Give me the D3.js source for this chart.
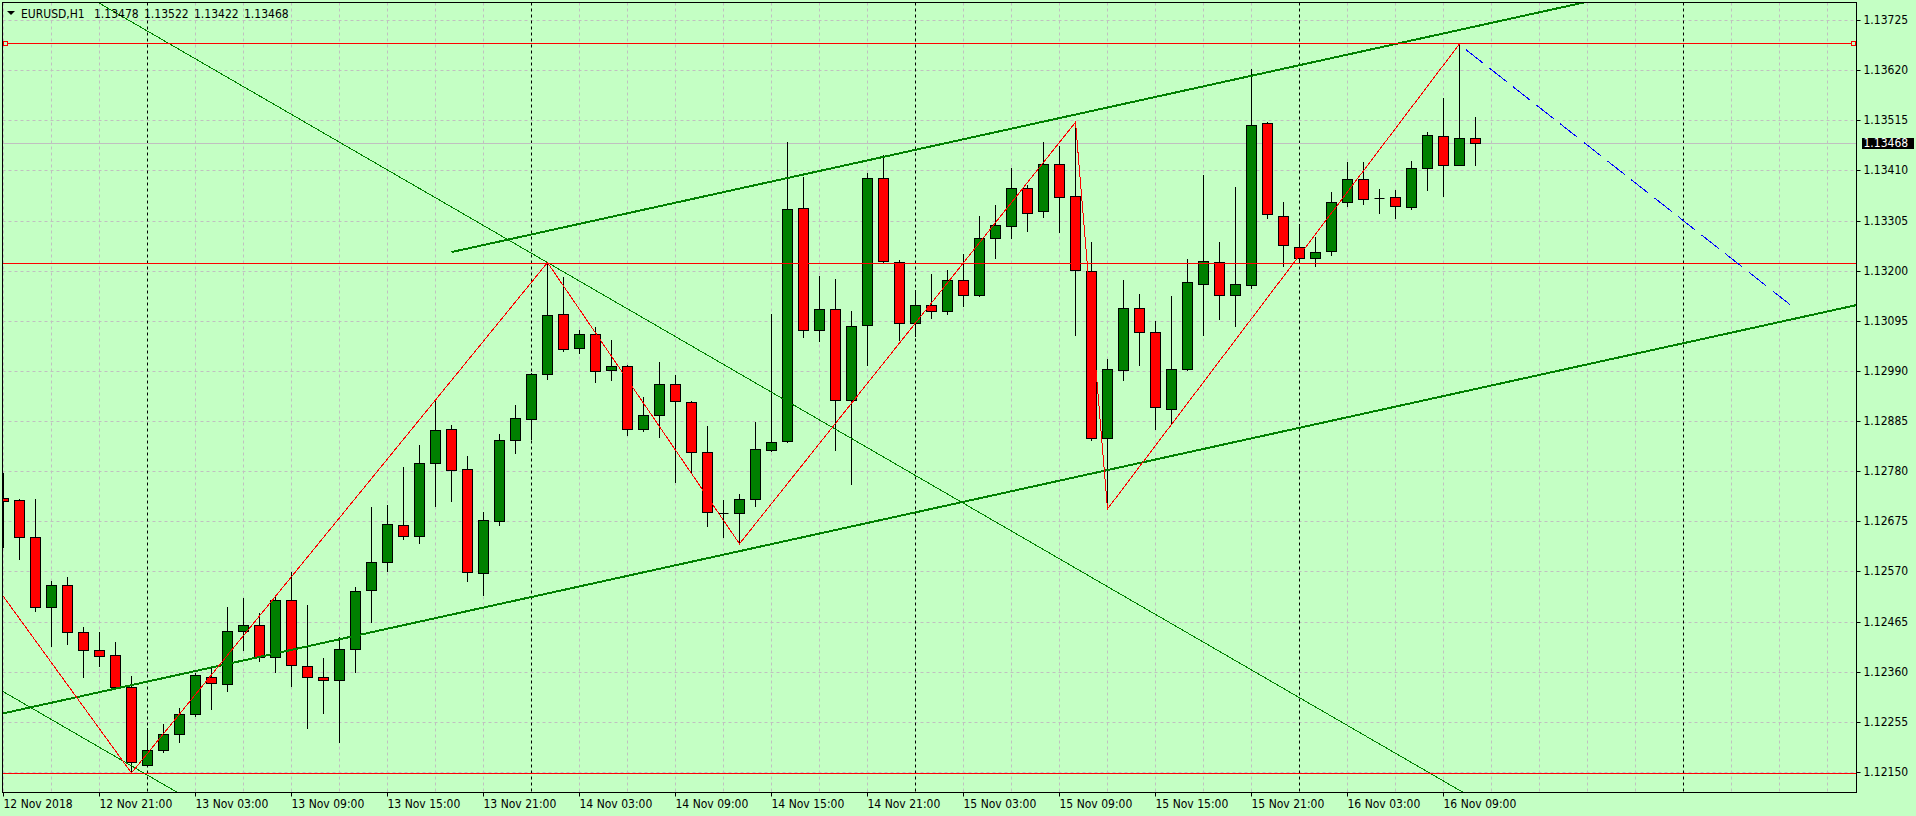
<!DOCTYPE html>
<html lang="en">
	<head>
		<meta charset="utf-8">
		<title>EURUSD,H1</title>
		<script type="text/javascript" src="https://cdnjs.cloudflare.com/ajax/libs/d3/7.8.5/d3.min.js"></script>
		<style type="text/css">
			body { margin: 0; background: #c4ffc4; }
			svg { display: block; }
			text { font-family: "DejaVu Sans Condensed", "Liberation Sans", sans-serif; font-size: 12px; }
		</style>
	</head>
	<body>
		<script type="text/javascript">

			//Width and height
			var w = 1916;
			var h = 816;

			//Chart frame, pixel edges
			var frame = {left: 2.5, top: 2.5, right: 1856.5, bottom: 792.5};

			var symbol = "EURUSD,H1";

			//Hourly bars from 12 Nov 2018 15:00
			var opens = [1.12724,1.12719,1.12642,1.12496,1.12542,1.12443,1.12406,1.12395,1.12328,1.12165,
				1.12196,1.12230,1.12272,1.12349,1.12334,1.12445,1.12457,1.12391,1.12510,1.12372,
				1.12349,1.12343,1.12408,1.12531,1.12590,1.12668,1.12645,1.12798,1.12869,1.12785,
				1.12567,1.12676,1.12846,1.12890,1.12984,1.13110,1.13039,1.13068,1.12992,1.13001,
				1.12869,1.12898,1.12963,1.12925,1.12821,1.12693,1.12693,1.12722,1.12825,1.12843,
				1.13332,1.13075,1.13120,1.12930,1.13087,1.13395,1.13219,1.13091,1.13129,1.13116,
				1.13181,1.13148,1.13269,1.13294,1.13374,1.13324,1.13424,1.13357,1.13200,1.12850,
				1.12992,1.13122,1.13072,1.12911,1.12995,1.13173,1.13219,1.13148,1.13171,1.13510,
				1.13315,1.13250,1.13227,1.13242,1.13344,1.13391,1.13352,1.13355,1.13334,1.13416,
				1.13483,1.13422,1.13478];
			var highs = [1.12777,1.12722,1.12721,1.12551,1.12559,1.12453,1.12444,1.12423,1.12352,1.12242,
				1.12251,1.12285,1.12357,1.12373,1.12495,1.12514,1.12483,1.12519,1.12569,1.12499,
				1.12389,1.12433,1.12538,1.12705,1.12710,1.12788,1.12834,1.12932,1.12876,1.12811,
				1.12694,1.12858,1.12918,1.12985,1.13218,1.13187,1.13076,1.13083,1.13054,1.13003,
				1.12936,1.13009,1.12982,1.12927,1.12874,1.12719,1.12733,1.12883,1.13109,1.13470,
				1.13397,1.13188,1.13182,1.13115,1.13405,1.13443,1.13223,1.13160,1.13194,1.13201,
				1.13234,1.13314,1.13337,1.13416,1.13380,1.13470,1.13461,1.13512,1.13259,1.13014,
				1.13181,1.13152,1.13094,1.13146,1.13224,1.13400,1.13259,1.13376,1.13622,1.13512,
				1.13344,1.13298,1.13271,1.13365,1.13427,1.13427,1.13372,1.13368,1.13429,1.13491,
				1.13562,1.13676,1.13522];
			var lows = [1.12622,1.12596,1.12487,1.12413,1.12418,1.12350,1.12373,1.12327,1.12149,1.12162,
				1.12191,1.12212,1.12268,1.12282,1.12319,1.12405,1.12382,1.12359,1.12331,1.12243,
				1.12273,1.12212,1.12359,1.12465,1.12572,1.12638,1.12629,1.12707,1.12717,1.12551,
				1.12520,1.12667,1.12818,1.12848,1.12974,1.13031,1.13028,1.12966,1.12971,1.12855,
				1.12864,1.12852,1.12757,1.12777,1.12665,1.12642,1.12629,1.12707,1.12823,1.12841,
				1.13061,1.13052,1.12824,1.12754,1.13002,1.13219,1.13054,1.13063,1.13101,1.13109,
				1.13126,1.13147,1.13226,1.13269,1.13284,1.13313,1.13280,1.13066,1.12846,1.12702,
				1.12971,1.13002,1.12869,1.12878,1.12992,1.13066,1.13099,1.13084,1.13164,1.13311,
				1.13210,1.13217,1.13210,1.13233,1.13335,1.13340,1.13321,1.13311,1.13330,1.13369,
				1.13357,1.13421,1.13422];
			var closes = [1.12717,1.12642,1.12496,1.12542,1.12443,1.12406,1.12393,1.12328,1.12171,1.12197,
				1.12230,1.12272,1.12353,1.12337,1.12445,1.12457,1.12391,1.12510,1.12374,1.12349,
				1.12343,1.12408,1.12529,1.12590,1.12670,1.12645,1.12798,1.12867,1.12783,1.12569,
				1.12678,1.12846,1.12892,1.12984,1.13108,1.13036,1.13068,1.12990,1.13001,1.12869,
				1.12898,1.12963,1.12927,1.12821,1.12695,1.12693,1.12722,1.12827,1.12842,1.13330,
				1.13075,1.13120,1.12930,1.13085,1.13395,1.13221,1.13091,1.13129,1.13116,1.13181,
				1.13148,1.13269,1.13296,1.13374,1.13321,1.13424,1.13355,1.13202,1.12850,1.12995,
				1.13122,1.13072,1.12915,1.12995,1.13177,1.13221,1.13148,1.13173,1.13506,1.13319,
				1.13254,1.13227,1.13240,1.13344,1.13391,1.13351,1.13352,1.13336,1.13416,1.13485,
				1.13422,1.13478,1.13468];

			//Time axis
			var timeTickBars = [0, 6, 12, 18, 24, 30, 36, 42, 48, 54, 60, 66, 72, 78, 84, 90];
			var timeTickLabels = ["12 Nov 2018", "12 Nov 21:00", "13 Nov 03:00", "13 Nov 09:00",
				"13 Nov 15:00", "13 Nov 21:00", "14 Nov 03:00", "14 Nov 09:00", "14 Nov 15:00",
				"14 Nov 21:00", "15 Nov 03:00", "15 Nov 09:00", "15 Nov 15:00", "15 Nov 21:00",
				"16 Nov 03:00", "16 Nov 09:00"];
			var daySeparatorBars = [9, 33, 57, 81, 105];

			//Price axis
			var priceTicks = [1.13725, 1.13620, 1.13515, 1.13410, 1.13305, 1.13200, 1.13095, 1.12990,
				1.12885, 1.12780, 1.12675, 1.12570, 1.12465, 1.12360, 1.12255, 1.12150];

			//Drawn objects, anchors as [bar, price]
			var zigzag = [[-4, 1.12703], [8, 1.12149], [34, 1.13218], [46, 1.12629], [67, 1.13512], [69, 1.12702], [91, 1.13676]];
			var upperChannel = [[28, 1.13240], [98, 1.13757]];
			var lowerChannel = [[0, 1.12274], [115, 1.13123]];
			var fanLineA = [[34, 1.13218], [80, 1.12326]];
			var fanLineB = [[0, 1.12319], [46, 1.11427]];
			var projection = [[91.4, 1.13664], [112, 1.13121]];
			var levels = [1.13676, 1.13217, 1.12148];

			//Bar index -> pixel centre, 16px per bar
			var xScale = d3.scaleLinear()
						   .domain([0, 100])
						   .range([3.5, 1603.5]);

			var yScale = d3.scaleLinear()
						   .domain([1.12150, 1.13725])
						   .range([772.5, 20.5]);

			//Pixel row of a price
			var row = p=>Math.floor(yScale(p));

			//Straight line through two anchors, stretched over [k0, k1]
			var stretch = (pts, k0, k1)=>{
				var s = (pts[1][1] - pts[0][1]) / (pts[1][0] - pts[0][0]);
				return [[k0, pts[0][1] + s * (k0 - pts[0][0])], [k1, pts[0][1] + s * (k1 - pts[0][0])]];
			};

			var line = d3.line()
						 .x(d=>xScale(d[0]))
						 .y(d=>yScale(d[1]));

			var bars = opens.map((o, i)=>({k: i, o: o, h: highs[i], l: lows[i], c: closes[i]}));
			var last = bars[bars.length - 1];

			//Create SVG element
			var svg = d3.select("body")
						.append("svg")
						.attr("width", w)
						.attr("height", h);

			svg.append("rect")
			   .attr("width", w)
			   .attr("height", h)
			   .attr("fill", "#c4ffc4");

			svg.append("clipPath")
			   .attr("id", "plotClip")
			   .append("rect")
			   .attr("x", frame.left + 0.5)
			   .attr("y", frame.top + 0.5)
			   .attr("width", frame.right - frame.left - 0.5)
			   .attr("height", frame.bottom - frame.top - 0.5);

			var plot = svg.append("g").attr("clip-path", "url(#plotClip)");

			//Grid
			plot.selectAll(".hgrid")
				.data(priceTicks)
				.enter()
				.append("line")
				.attr("x1", frame.left)
				.attr("x2", frame.right)
				.attr("y1", d=>row(d) + 0.5)
				.attr("y2", d=>row(d) + 0.5)
				.attr("stroke", "#c0c0c0")
				.attr("stroke-dasharray", "3,3");

			plot.selectAll(".vgrid")
				.data(d3.range(0, 116, 3).filter(k=>daySeparatorBars.indexOf(k) < 0))
				.enter()
				.append("line")
				.attr("x1", d=>xScale(d))
				.attr("x2", d=>xScale(d))
				.attr("y1", frame.top)
				.attr("y2", frame.bottom)
				.attr("stroke", "#c0c0c0")
				.attr("stroke-dasharray", "3,3");

			//Period separators
			plot.selectAll(".sep")
				.data(daySeparatorBars)
				.enter()
				.append("line")
				.attr("x1", d=>xScale(d))
				.attr("x2", d=>xScale(d))
				.attr("y1", frame.top)
				.attr("y2", frame.bottom)
				.attr("stroke", "#000")
				.attr("stroke-dasharray", "3,3");

			//Bid line
			plot.append("line")
				.attr("x1", frame.left)
				.attr("x2", frame.right)
				.attr("y1", row(last.c) + 0.5)
				.attr("y2", row(last.c) + 0.5)
				.attr("stroke", "#c0c0c0");

			//Wicks
			plot.selectAll(".wick")
				.data(bars)
				.enter()
				.append("line")
				.attr("x1", d=>xScale(d.k))
				.attr("x2", d=>xScale(d.k))
				.attr("y1", d=>row(d.h))
				.attr("y2", d=>row(d.l) + 1)
				.attr("stroke", "#000");

			//Bodies
			plot.selectAll(".body")
				.data(bars.filter(d=>d.o !== d.c))
				.enter()
				.append("rect")
				.attr("x", d=>xScale(d.k) - 5)
				.attr("width", 10)
				.attr("y", d=>row(Math.max(d.o, d.c)) + 0.5)
				.attr("height", d=>row(Math.min(d.o, d.c)) - row(Math.max(d.o, d.c)))
				.attr("fill", d=>d.c > d.o ? "#008000" : "#ff0000")
				.attr("stroke", "#000");

			//Doji
			plot.selectAll(".doji")
				.data(bars.filter(d=>d.o === d.c))
				.enter()
				.append("line")
				.attr("x1", d=>xScale(d.k) - 5)
				.attr("x2", d=>xScale(d.k) + 5)
				.attr("y1", d=>row(d.o) + 0.5)
				.attr("y2", d=>row(d.o) + 0.5)
				.attr("stroke", "#000");

			//Objects
			var objects = plot.append("g")
							  .attr("fill", "none")
							  .attr("shape-rendering", "crispEdges");

			objects.append("path")
				   .attr("d", line(stretch(fanLineA, -10, 130)))
				   .attr("stroke", "#008000");

			objects.append("path")
				   .attr("d", line(stretch(fanLineB, -10, 60)))
				   .attr("stroke", "#008000");

			objects.append("path")
				   .attr("d", line(stretch(upperChannel, upperChannel[0][0], 130)))
				   .attr("stroke", "#008000")
				   .attr("stroke-width", 2);

			objects.append("path")
				   .attr("d", line(stretch(lowerChannel, -5, 130)))
				   .attr("stroke", "#008000")
				   .attr("stroke-width", 2);

			objects.selectAll(".level")
				   .data(levels)
				   .enter()
				   .append("line")
				   .attr("x1", frame.left)
				   .attr("x2", frame.right)
				   .attr("y1", d=>row(d) + 0.5)
				   .attr("y2", d=>row(d) + 0.5)
				   .attr("stroke", "#ff0000");

			//Anchor squares of the top level
			objects.selectAll(".anchor")
				   .data([frame.left + 1, frame.right - 5])
				   .enter()
				   .append("rect")
				   .attr("x", d=>d)
				   .attr("y", row(levels[0]) - 1.5)
				   .attr("width", 4)
				   .attr("height", 4)
				   .attr("fill", "#c4ffc4")
				   .attr("stroke", "#ff0000");

			objects.append("path")
				   .attr("d", line(zigzag))
				   .attr("stroke", "#ff0000");

			objects.append("path")
				   .attr("d", line(projection))
				   .attr("stroke", "#0000ff")
				   .attr("stroke-dasharray", "22,8");

			//Frame
			svg.append("rect")
			   .attr("x", frame.left)
			   .attr("y", frame.top)
			   .attr("width", frame.right - frame.left)
			   .attr("height", frame.bottom - frame.top)
			   .attr("fill", "none")
			   .attr("stroke", "#000");

			//Price axis
			var yAxis = d3.axisRight(yScale)
						  .tickValues(priceTicks)
						  .tickFormat(d3.format(".5f"))
						  .tickSize(4)
						  .offset(0);

			var gy = svg.append("g")
						.attr("transform", `translate(${frame.right},0)`)
						.call(yAxis);
			gy.select(".domain").remove();
			gy.selectAll(".tick").attr("transform", d=>`translate(0,${row(d) + 0.5})`);

			//Time axis
			var xAxis = d3.axisBottom(xScale)
						  .tickValues(timeTickBars)
						  .tickFormat((d, i)=>timeTickLabels[i])
						  .tickSize(4)
						  .offset(0);

			var gx = svg.append("g")
						.attr("transform", `translate(0,${frame.bottom})`)
						.call(xAxis);
			gx.select(".domain").remove();
			gx.selectAll("text")
			  .attr("text-anchor", "start")
			  .attr("x", 0);

			//Current price label
			svg.append("rect")
			   .attr("x", 1862)
			   .attr("y", row(last.c) - 5)
			   .attr("width", 52)
			   .attr("height", 11)
			   .attr("fill", "#000");

			svg.append("text")
			   .attr("x", frame.right + 7)
			   .attr("y", row(last.c) + 0.5)
			   .attr("dy", "0.32em")
			   .attr("fill", "#fff")
			   .text(d3.format(".5f")(last.c));

			//Header
			svg.append("path")
			   .attr("d", "M7,11H15L11,15Z")
			   .attr("fill", "#000");

			svg.append("text")
			   .attr("x", 21)
			   .attr("y", 17.5)
			   .text(symbol);

			svg.selectAll(".ohlc")
			   .data([last.o, last.h, last.l, last.c])
			   .enter()
			   .append("text")
			   .attr("x", (d, i)=>94 + i * 50)
			   .attr("y", 17.5)
			   .text(d=>d3.format(".5f")(d));

		</script>
	</body>
</html>
